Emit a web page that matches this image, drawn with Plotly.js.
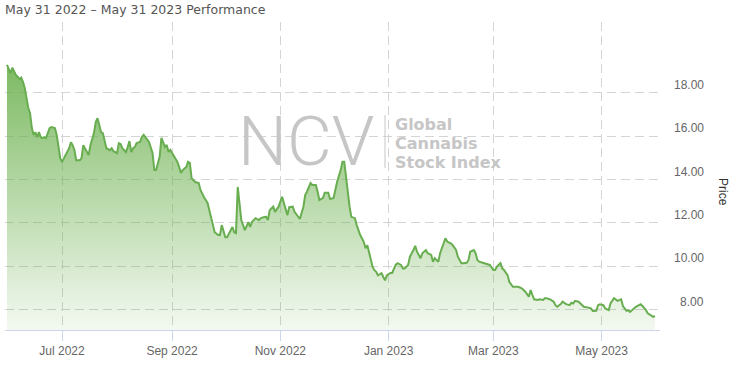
<!DOCTYPE html>
<html>
<head>
<meta charset="utf-8">
<script src="https://cdn.plot.ly/plotly-3.0.1.min.js"></script>
<style>html,body{margin:0;padding:0;background:#fff;}#chart{width:738px;height:366px;}</style>
</head>
<body>
<div id="chart"></div>
<script>
// ---- Data ----
const dates = [
"2022-05-31","2022-06-01","2022-06-02","2022-06-03","2022-06-04","2022-06-05","2022-06-06","2022-06-07","2022-06-08","2022-06-09",
"2022-06-10","2022-06-11","2022-06-12","2022-06-13","2022-06-14","2022-06-15","2022-06-16","2022-06-17","2022-06-18","2022-06-19",
"2022-06-20","2022-06-21","2022-06-22","2022-06-23","2022-06-24","2022-06-25","2022-06-27","2022-06-28","2022-06-29","2022-06-30",
"2022-07-01","2022-07-03","2022-07-04","2022-07-05","2022-07-06","2022-07-07","2022-07-08","2022-07-09","2022-07-11","2022-07-12",
"2022-07-13","2022-07-15","2022-07-16","2022-07-17","2022-07-19","2022-07-20","2022-07-21","2022-07-22","2022-07-23","2022-07-24",
"2022-07-25","2022-07-26","2022-07-28","2022-07-29","2022-07-30","2022-08-01","2022-08-02","2022-08-03","2022-08-04","2022-08-06",
"2022-08-07","2022-08-08","2022-08-09","2022-08-10","2022-08-11",
"2022-08-12","2022-08-14","2022-08-15","2022-08-16","2022-08-18","2022-08-19","2022-08-21","2022-08-22","2022-08-23","2022-08-25",
"2022-08-26","2022-08-27","2022-08-28","2022-08-29","2022-08-30","2022-08-31","2022-09-01","2022-09-02","2022-09-03","2022-09-04",
"2022-09-05","2022-09-06","2022-09-07","2022-09-09","2022-09-10","2022-09-11","2022-09-12","2022-09-14","2022-09-16","2022-09-17",
"2022-09-19","2022-09-21","2022-09-22","2022-09-23","2022-09-24","2022-09-25","2022-09-27","2022-09-28","2022-09-29","2022-09-30",
"2022-10-01","2022-10-02","2022-10-04","2022-10-05","2022-10-06","2022-10-07","2022-10-08","2022-10-09","2022-10-10","2022-10-12",
"2022-10-13","2022-10-14","2022-10-15","2022-10-16","2022-10-17","2022-10-18","2022-10-20","2022-10-21","2022-10-23",
"2022-10-24","2022-10-25","2022-10-26","2022-10-28","2022-10-29","2022-10-31","2022-11-02","2022-11-03","2022-11-05","2022-11-06",
"2022-11-08","2022-11-09","2022-11-12","2022-11-14","2022-11-15","2022-11-16","2022-11-18","2022-11-19","2022-11-21","2022-11-22",
"2022-11-23","2022-11-25","2022-11-26","2022-11-28","2022-11-29","2022-12-01","2022-12-02","2022-12-03","2022-12-05","2022-12-06",
"2022-12-07","2022-12-08","2022-12-09","2022-12-10","2022-12-11","2022-12-13","2022-12-14","2022-12-16","2022-12-18","2022-12-19",
"2022-12-20","2022-12-21","2022-12-22","2022-12-23","2022-12-24","2022-12-25","2022-12-26","2022-12-28","2022-12-29","2022-12-30",
"2022-12-31","2023-01-02",
"2023-01-03","2023-01-05","2023-01-06","2023-01-08","2023-01-09","2023-01-10","2023-01-12","2023-01-13","2023-01-15","2023-01-16",
"2023-01-17","2023-01-19","2023-01-20","2023-01-22","2023-01-23","2023-01-25","2023-01-26","2023-01-27","2023-01-29","2023-01-30",
"2023-02-01","2023-02-02","2023-02-03","2023-02-05","2023-02-06","2023-02-08","2023-02-09","2023-02-11","2023-02-12","2023-02-14",
"2023-02-15","2023-02-16","2023-02-18","2023-02-19","2023-02-20","2023-02-21","2023-02-23","2023-02-26","2023-02-27","2023-03-01",
"2023-03-02","2023-03-03","2023-03-05","2023-03-06","2023-03-07","2023-03-09","2023-03-10","2023-03-12","2023-03-13","2023-03-15",
"2023-03-17",
"2023-03-19","2023-03-21","2023-03-22","2023-03-23","2023-03-24","2023-03-26","2023-03-27","2023-03-29","2023-03-30","2023-03-31",
"2023-04-02","2023-04-04","2023-04-05","2023-04-06","2023-04-08","2023-04-09","2023-04-11","2023-04-13","2023-04-14","2023-04-15",
"2023-04-16","2023-04-18","2023-04-19","2023-04-21","2023-04-23","2023-04-25","2023-04-26","2023-04-28","2023-04-29","2023-04-30",
"2023-05-02","2023-05-03","2023-05-05","2023-05-06","2023-05-08","2023-05-09","2023-05-10","2023-05-12","2023-05-13","2023-05-15",
"2023-05-16","2023-05-17","2023-05-19","2023-05-20","2023-05-21","2023-05-23","2023-05-24","2023-05-26","2023-05-27","2023-05-29",
"2023-05-30","2023-05-31"
];
const prices = [
19.29,19.05,18.90,19.16,18.98,18.82,18.74,18.64,18.70,18.51,
18.22,17.76,17.30,17.06,16.37,16.05,16.18,15.95,16.18,15.95,
15.91,15.95,15.91,16.14,16.37,16.42,16.37,16.05,15.44,14.98,
14.80,15.12,15.35,15.44,15.72,15.58,15.35,14.89,14.89,14.98,
15.58,15.26,15.12,15.58,16.14,16.65,16.83,16.51,16.18,16.14,
15.72,15.44,15.35,15.44,15.30,15.21,15.67,15.63,15.44,15.26,
15.49,15.77,15.26,15.44,15.49,
15.68,15.73,15.96,16.06,15.87,15.73,15.22,14.43,14.43,15.04,
15.92,15.73,15.50,15.59,15.27,15.36,15.22,15.13,14.99,14.81,
14.57,14.30,14.43,14.57,14.81,14.76,14.06,13.88,13.83,13.51,
13.18,12.91,12.58,12.26,11.98,11.56,11.43,11.43,11.89,11.66,
11.33,11.33,11.66,11.80,11.56,11.52,13.65,12.91,12.12,11.66,
11.89,12.03,11.80,12.03,12.12,12.21,12.12,12.21,12.26,
12.27,12.12,12.58,12.74,12.50,12.74,13.20,12.91,12.35,12.72,
12.74,12.50,12.17,12.74,13.28,13.43,13.83,13.74,13.74,13.43,
13.05,13.14,13.38,13.38,13.09,13.14,13.51,13.89,14.43,14.82,
14.82,14.12,13.28,12.74,12.27,12.21,11.89,11.43,11.12,10.82,
10.96,10.65,10.27,9.96,9.81,9.73,9.57,9.67,9.49,9.34,
9.57,9.68,
9.68,10.05,10.13,10.05,9.89,9.89,10.05,10.43,10.74,10.93,
10.66,10.36,10.59,10.74,10.59,10.51,10.20,10.36,10.20,10.59,
11.05,11.28,11.13,11.05,10.97,10.74,10.43,10.13,10.13,10.15,
10.28,10.66,10.74,10.59,10.28,10.20,10.15,10.08,10.05,9.82,
9.82,9.97,10.13,9.89,9.82,9.58,9.27,9.04,9.04,9.04,
8.97,
8.81,8.58,8.89,8.66,8.46,8.43,8.46,8.43,8.51,8.51,
8.46,8.35,8.19,8.12,8.24,8.35,8.24,8.19,8.30,8.27,
8.39,8.35,8.27,8.12,8.09,8.04,7.92,7.93,8.19,8.23,
8.19,8.04,7.96,8.27,8.51,8.46,8.39,8.46,8.15,7.93,
7.96,7.88,8.04,8.09,8.15,8.23,8.15,7.96,7.81,7.69,
7.65,7.69
];
const xTickDates = ["2022-07-01","2022-09-01","2022-11-01","2023-01-01","2023-03-01","2023-05-01"];
const xTickLabels = ["Jul 2022","Sep 2022","Nov 2022","Jan 2023","Mar 2023","May 2023"];
const yTicks = [8, 10, 12, 14, 16, 18];
const titleText = "May 31 2022 \u2013 May 31 2023 Performance";
const yTitle = "Price";
const watermarkBig = "NCV";
const watermarkLines = ["Global", "Cannabis", "Stock Index"];

// ---- Geometry helpers (pixel layout of the 738x366 frame) ----
const W = 738, H = 366;
const M = {l: 5, r: 78, t: 22, b: 36};
const PW = W - M.l - M.r, PH = H - M.t - M.b;
const px = x => (x - M.l) / PW;
const py = y => (H - M.b - y) / PH;

const yRange = [7.044, 21.27];
const xRange = ["2022-05-29 21:00", "2023-06-02 21:30"];

const green = "rgb(104,174,80)";

const trace = {
  type: "scatter",
  mode: "lines",
  x: dates,
  y: prices,
  line: {color: green, width: 2},
  fill: "tozeroy",
  fillgradient: {
    type: "vertical",
    start: yRange[0],
    stop: yRange[1],
    colorscale: [[0, "rgba(106,176,76,0.08)"], [1, "rgba(106,176,76,1)"]]
  },
  hoverinfo: "skip",
  showlegend: false
};

const annotations = [];
yTicks.forEach(v => annotations.push({
  xref: "paper", yref: "y", x: px(706), y: v, yshift: 7.7,
  xanchor: "right", yanchor: "middle", showarrow: false,
  text: v.toFixed(2), font: {family: "Liberation Sans, Arial, sans-serif", size: 12, color: "#666666"}
}));
annotations.push({
  xref: "paper", yref: "paper", x: px(723), y: py(192),
  xanchor: "center", yanchor: "middle", showarrow: false, textangle: 90,
  text: yTitle, font: {family: "Liberation Sans, Arial, sans-serif", size: 12, color: "#333333"}
});
annotations.push({
  xref: "paper", yref: "paper", x: px(236), y: py(141.7),
  xanchor: "left", yanchor: "middle", showarrow: false,
  text: watermarkBig, font: {family: "Roboto, sans-serif", size: 69, weight: 300, color: "#c6c6c6"}
});
const wmY = [124.3, 143.3, 162.3];
watermarkLines.forEach((t, i) => annotations.push({
  xref: "paper", yref: "paper", x: px(394), y: py(wmY[i]),
  xanchor: "left", yanchor: "middle", showarrow: false,
  borderpad: 0,
  text: t, font: {family: "DejaVu Sans, sans-serif", size: 16, weight: 700, color: "#c6c6c6"}
}));

const layout = {
  width: W, height: H,
  margin: M,
  paper_bgcolor: "#ffffff",
  plot_bgcolor: "#ffffff",
  hovermode: false,
  title: {
    text: titleText, xref: "container", yref: "container",
    x: 5 / W, xanchor: "left", y: 1 - 10 / H, yanchor: "middle",
    font: {family: "DejaVu Sans, sans-serif", size: 12.5, color: "#555555"}
  },
  xaxis: {
    type: "date",
    range: xRange,
    tickvals: xTickDates,
    ticktext: xTickLabels,
    ticks: "outside", ticklen: 10, tickcolor: "#ccd6eb", tickwidth: 1,
    showline: true, linecolor: "#ccd6eb", linewidth: 1,
    showgrid: true, gridcolor: "#d4d4d4", griddash: "9px,5px", gridwidth: 1,
    zeroline: false,
    tickfont: {family: "Liberation Sans, Arial, sans-serif", size: 12, color: "#666666"},
    fixedrange: true
  },
  yaxis: {
    range: yRange,
    tickvals: yTicks,
    showticklabels: false,
    ticks: "",
    showline: false,
    showgrid: true, gridcolor: "#d4d4d4", griddash: "9px,5px", gridwidth: 1,
    zeroline: false,
    fixedrange: true
  },
  shapes: [{
    type: "line", xref: "paper", yref: "paper",
    x0: px(385), x1: px(385), y0: py(168), y1: py(115),
    line: {color: "#c6c6c6", width: 1}
  }],
  annotations: annotations
};

Plotly.newPlot("chart", [trace], layout, {staticPlot: true, displayModeBar: false});
</script>
</body>
</html>
